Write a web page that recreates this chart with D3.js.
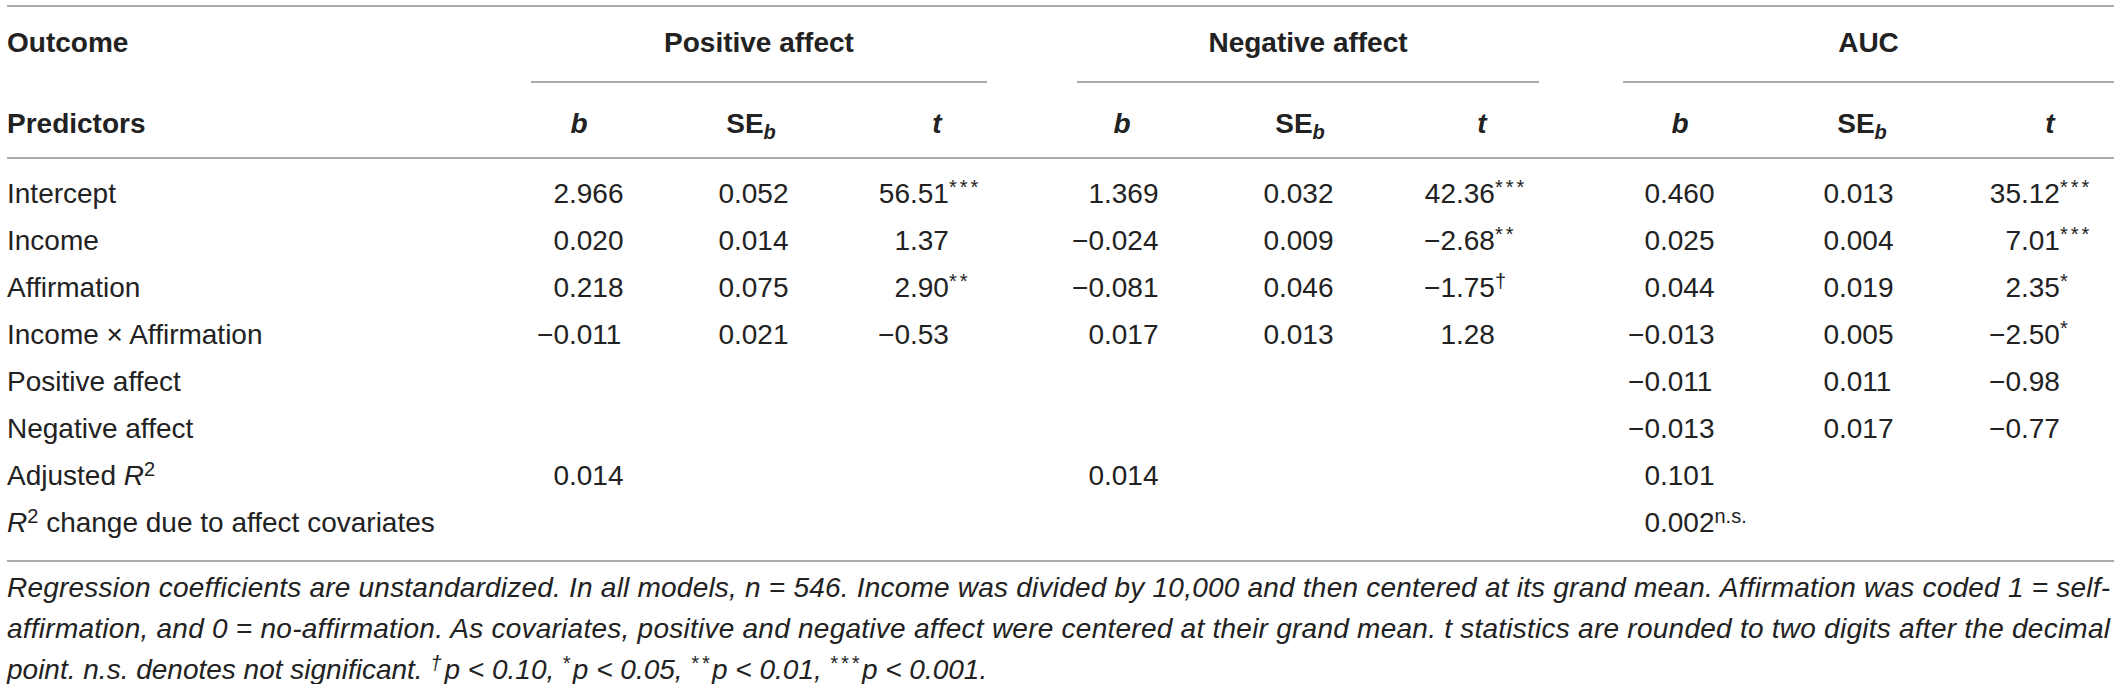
<!DOCTYPE html>
<html>
<head>
<meta charset="utf-8">
<script src="https://cdn.jsdelivr.net/npm/d3@7"></script>
<style>
  body { margin: 0; background: #fff; }
  svg text { font-family: "Liberation Sans", Arial, Helvetica, sans-serif; fill: #222; }
  .cell { font-size: 28px; }
  .bold { font-weight: bold; }
  .note { font-style: italic; font-size: 28px; }
</style>
</head>
<body>
<svg id="table"></svg>
<script>
// Size of the picture
const width = 2119;
const height = 684;

// Table data
const groups = ["Positive affect", "Negative affect", "AUC"];
const stats = ["b", "SE", "t"];
// markup: ^x^ superscript, ~x~ subscript, _x_ italic
const predictors = [
  "Intercept", "Income", "Affirmation", "Income × Affirmation",
  "Positive affect", "Negative affect", "Adjusted _R_^2^", "_R_^2^ change due to affect covariates"
];

const posB = [2.966, 0.020, 0.218, -0.011, null, null, 0.014, null];
const posSE = [0.052, 0.014, 0.075, 0.021, null, null, null, null];
const posT = [56.51, 1.37, 2.90, -0.53, null, null, null, null];
const posTSig = ["***", "", "**", "", "", "", "", ""];

const negB = [1.369, -0.024, -0.081, 0.017, null, null, 0.014, null];
const negSE = [0.032, 0.009, 0.046, 0.013, null, null, null, null];
const negT = [42.36, -2.68, -1.75, 1.28, null, null, null, null];
const negTSig = ["***", "**", "†", "", "", "", "", ""];

const aucB = [0.460, 0.025, 0.044, -0.013, -0.011, -0.013, 0.101, 0.002];
const aucBSig = ["", "", "", "", "", "", "", "n.s."];
const aucSE = [0.013, 0.004, 0.019, 0.005, 0.011, 0.017, null, null];
const aucT = [35.12, 7.01, 2.35, -2.50, -0.98, -0.77, null, null];
const aucTSig = ["***", "***", "*", "*", "", "", "", ""];

const noteLines = [
  "Regression coefficients are unstandardized. In all models, n = 546. Income was divided by 10,000 and then centered at its grand mean. Affirmation was coded 1 = self-",
  "affirmation, and 0 = no-affirmation. As covariates, positive and negative affect were centered at their grand mean. t statistics are rounded to two digits after the decimal",
  "point. n.s. denotes not significant. ^†^p < 0.10, ^*^p < 0.05, ^**^p < 0.01, ^***^p < 0.001."
];

// Columns: values, decimals, significance marks
const columns = [
  { key: "Positive affect|b", vals: posB, dec: 3, sig: null },
  { key: "Positive affect|SE", vals: posSE, dec: 3, sig: null },
  { key: "Positive affect|t", vals: posT, dec: 2, sig: posTSig },
  { key: "Negative affect|b", vals: negB, dec: 3, sig: null },
  { key: "Negative affect|SE", vals: negSE, dec: 3, sig: null },
  { key: "Negative affect|t", vals: negT, dec: 2, sig: negTSig },
  { key: "AUC|b", vals: aucB, dec: 3, sig: aucBSig },
  { key: "AUC|SE", vals: aucSE, dec: 3, sig: null },
  { key: "AUC|t", vals: aucT, dec: 2, sig: aucTSig }
];

const colKeys = columns.map(c => c.key);

// Layout scales
const decimalX = d3.scaleOrdinal().domain(colKeys)
  .range([569, 734, 910, 1104, 1279, 1456, 1660, 1839, 2021]);
const headerX = d3.scaleOrdinal().domain(colKeys)
  .range([579, 751, 937, 1122, 1300, 1482, 1680, 1862, 2050]);
const groupSpan = d3.scaleOrdinal().domain(groups)
  .range([[531, 987], [1077, 1539], [1623, 2114]]);
const rowY = d3.scalePoint().domain(d3.range(predictors.length)).range([203, 532]);

const left = 7, right = 2114;
const supSize = 20, supShift = 9;

const svg = d3.select("#table")
  .attr("width", width)
  .attr("height", height);

// Write a string with the small markup into a text element
function rich(textSel, str) {
  const parts = str.split(/(\^[^^]+\^|~[^~]+~|_[^_]+_)/).filter(p => p.length);
  let shift = 0;
  parts.forEach(p => {
    const ts = textSel.append("tspan");
    let target = 0;
    if (p[0] === "^") {
      const inner = p.slice(1, -1);
      ts.text(inner).style("font-size", supSize + "px");
      // stars and daggers are set loosely in the original
      if (/^[*†]+$/.test(inner)) ts.style("letter-spacing", "3px");
      target = -supShift;
    } else if (p[0] === "~") {
      ts.text(p.slice(1, -1)).style("font-size", "20px").style("font-style", "italic");
      target = 6;
    } else if (p[0] === "_") {
      ts.text(p.slice(1, -1)).style("font-style", "italic");
    } else {
      ts.text(p);
    }
    if (target !== shift) {
      ts.attr("dy", target - shift);
      shift = target;
    }
  });
}

// Helper to measure text width
const meas = svg.append("text").attr("class", "cell").style("visibility", "hidden");
function textWidth(s) {
  meas.text(s);
  return meas.node().getComputedTextLength();
}

// Rules
const rules = [6, 158, 561];
svg.selectAll("line.rule")
  .data(rules)
  .join("line")
  .attr("class", "rule")
  .attr("x1", left).attr("x2", right)
  .attr("y1", d => d).attr("y2", d => d)
  .attr("stroke", "#8e8e8e")
  .attr("stroke-width", 1.6);

// Group underlines
svg.selectAll("line.group")
  .data(groups)
  .join("line")
  .attr("class", "group")
  .attr("x1", d => groupSpan(d)[0]).attr("x2", d => groupSpan(d)[1])
  .attr("y1", 82).attr("y2", 82)
  .attr("stroke", "#8e8e8e")
  .attr("stroke-width", 1.6);

// Header row 1
svg.append("text").attr("class", "cell bold")
  .attr("x", left).attr("y", 52).text("Outcome");

svg.selectAll("text.group")
  .data(groups)
  .join("text")
  .attr("class", "cell bold group")
  .attr("text-anchor", "middle")
  .attr("x", d => (groupSpan(d)[0] + groupSpan(d)[1]) / 2)
  .attr("y", 52)
  .text(d => d);

// Header row 2
svg.append("text").attr("class", "cell bold")
  .attr("x", left).attr("y", 133).text("Predictors");

columns.forEach(c => {
  const stat = c.key.split("|")[1];
  const t = svg.append("text")
    .attr("class", "cell bold")
    .attr("text-anchor", "middle")
    .attr("x", headerX(c.key))
    .attr("y", 133);
  if (stat === "SE") rich(t, "SE~b~");
  else rich(t, "_" + stat + "_");
});

// Row labels
predictors.forEach((p, i) => {
  const t = svg.append("text").attr("class", "cell")
    .attr("x", left).attr("y", rowY(i));
  rich(t, p);
});

// Cells, aligned on the decimal point
const fmt3 = d3.format(".3f");
const fmt2 = d3.format(".2f");
columns.forEach(c => {
  c.vals.forEach((v, i) => {
    if (v === null) return;
    const s = c.dec === 3 ? fmt3(v) : fmt2(v);
    const intPart = s.split(".")[0];
    const t = svg.append("text").attr("class", "cell")
      .attr("x", decimalX(c.key) - textWidth(intPart))
      .attr("y", rowY(i));
    const sig = c.sig ? c.sig[i] : "";
    rich(t, sig ? s + "^" + sig + "^" : s);
  });
});

// Footnote
const noteY = [597, 638, 679];
noteLines.forEach((line, i) => {
  const t = svg.append("text").attr("class", "note")
    .attr("x", left).attr("y", noteY[i]);
  rich(t, line);
  if (i < 2) {
    t.attr("textLength", 2110 - left).attr("lengthAdjust", "spacing");
  }
});
</script>
</body>
</html>
